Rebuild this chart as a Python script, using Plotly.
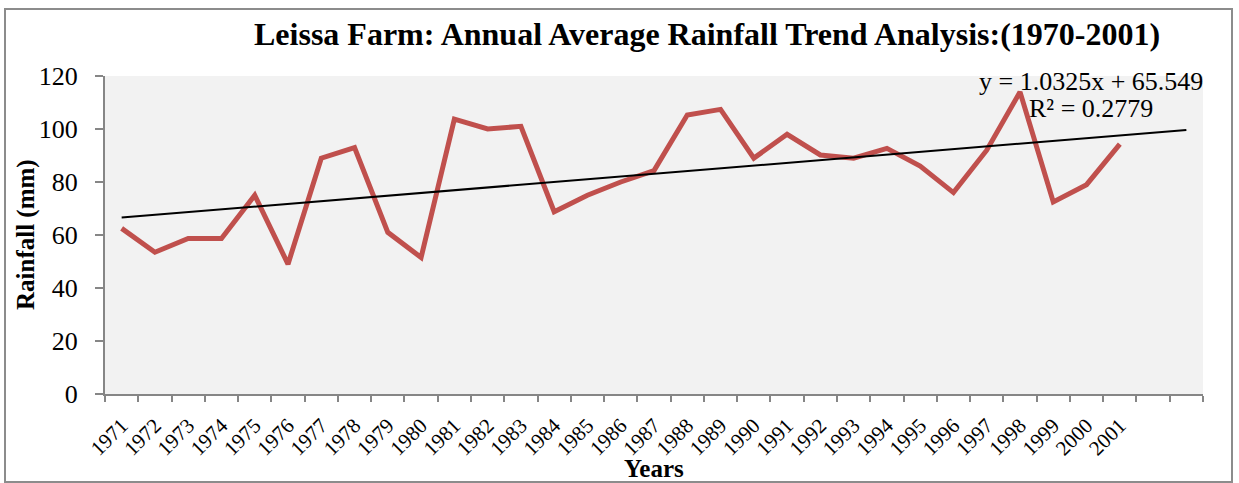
import plotly.graph_objects as go

# ---- data ----
years = list(range(1971, 2002))
rainfall = [62.5, 53.5, 58.7, 58.7, 75.0, 49.0, 89.0, 93.0, 61.0, 51.5,
            103.7, 100.0, 101.0, 68.8, 75.0, 80.0, 84.3, 105.3, 107.4, 89.0,
            98.0, 90.2, 89.0, 92.7, 86.0, 76.0, 92.0, 114.0, 72.5, 79.0, 94.3]
trend_slope = 1.0325
trend_intercept = 65.549
r_squared = 0.2779
trend_years = list(range(1971, 2004))   # trendline extended over 2 blank periods
y_ticks = [0, 20, 40, 60, 80, 100, 120]

trend_values = [trend_slope * (yr - 1970) + trend_intercept for yr in trend_years]

FONT = "Liberation Serif, Times New Roman, serif"
W, H = 1239, 483
L, R, T, B = 105, 36, 76, 89
pw, ph = W - L - R, H - T - B

def px_x(px):
    return (px - L) / pw

def px_y(py):
    return (H - B - py) / ph

fig = go.Figure()
fig.add_trace(go.Scatter(x=years, y=rainfall, mode="lines",
                         line=dict(color="#C0504D", width=5),
                         showlegend=False, hoverinfo="skip"))
fig.add_trace(go.Scatter(x=trend_years, y=trend_values, mode="lines",
                         line=dict(color="#000000", width=2),
                         showlegend=False, hoverinfo="skip"))

fig.update_layout(
    width=W, height=H,
    margin=dict(l=L, r=R, t=T, b=B),
    paper_bgcolor="white",
    plot_bgcolor="#F2F2F2",
    font=dict(family=FONT, color="black"),
    xaxis=dict(
        range=[years[0] - 0.5, trend_years[-1] + 0.5],
        tickmode="array", tickvals=years, ticktext=[str(y) for y in years],
        tickangle=-45, ticks="", tickfont=dict(size=21, family=FONT),
        ticklabelstandoff=9,
        showline=True, linecolor="#868686", linewidth=2,
        showgrid=False, zeroline=False,
        minor=dict(tickmode="array",
                   tickvals=[years[0] - 0.5 + i for i in range(len(trend_years) + 1)],
                   ticks="outside", ticklen=6, tickcolor="#868686", tickwidth=2,
                   showgrid=False),
    ),
    yaxis=dict(
        range=[0, 120], tickmode="array", tickvals=y_ticks,
        ticks="outside", ticklen=8, tickcolor="#868686", tickwidth=2,
        tickfont=dict(size=26, family=FONT), ticklabelstandoff=12,
        showline=True, linecolor="#868686", linewidth=2,
        showgrid=False, zeroline=False,
    ),
)

annotations = [
    dict(text="<b>Leissa Farm: Annual Average Rainfall Trend Analysis:(1970-2001)</b>",
         xref="paper", yref="paper", x=px_x(707), y=px_y(34),
         xanchor="center", yanchor="middle", showarrow=False,
         font=dict(size=32, family=FONT, color="black")),
    dict(text="<b>Rainfall (mm)</b>", xref="paper", yref="paper",
         x=px_x(26), y=px_y(235), xanchor="center", yanchor="middle",
         textangle=-90, showarrow=False,
         font=dict(size=25, family=FONT, color="black")),
    dict(text="<b>Years</b>", xref="paper", yref="paper",
         x=px_x(654), y=px_y(468), xanchor="center", yanchor="middle",
         showarrow=False, font=dict(size=25, family=FONT, color="black")),
    dict(text=f"y = {trend_slope}x + {trend_intercept}", xref="paper", yref="paper",
         x=px_x(1091), y=px_y(81), xanchor="center", yanchor="middle",
         showarrow=False, font=dict(size=26, family=FONT, color="black")),
    dict(text=f"R² = {r_squared}", xref="paper", yref="paper",
         x=px_x(1091), y=px_y(108), xanchor="center", yanchor="middle",
         showarrow=False, font=dict(size=26, family=FONT, color="black")),
]
fig.update_layout(annotations=annotations)

fig.add_shape(type="rect", xref="paper", yref="paper",
              x0=px_x(5), x1=px_x(1232), y0=px_y(482), y1=px_y(9),
              line=dict(color="#8C8C8C", width=2), fillcolor="rgba(0,0,0,0)",
              layer="below")

fig.write_html("out.html", config={"displayModeBar": False},
               post_script="document.body.style.margin='0';document.body.style.overflow='hidden';")
